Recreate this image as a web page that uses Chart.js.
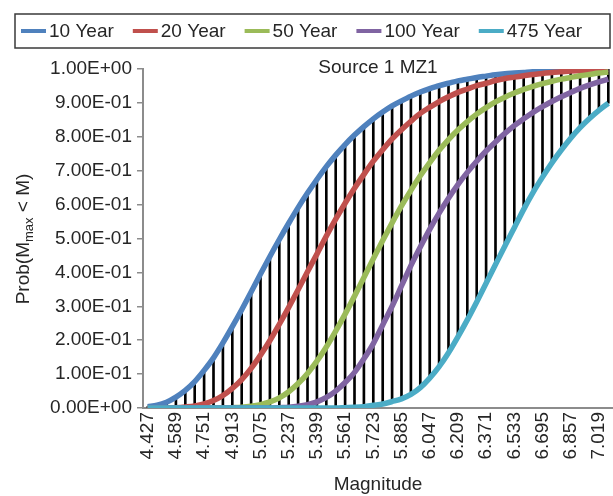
<!DOCTYPE html>
<html>
<head>
<meta charset="utf-8">
<title>Source 1 MZ1</title>
<script src="https://cdn.jsdelivr.net/npm/chart.js@4.4.1/dist/chart.umd.min.js"></script>
<style>
  html, body { margin: 0; padding: 0; background: #fff; overflow: hidden; }
</style>
</head>
<body>
<canvas id="chart" width="613" height="496"></canvas>
<script>
// Magnitude bins (every third one is labelled on the axis)
const magnitudes = [
  '4.427', '4.481', '4.535', '4.589', '4.643', '4.697', '4.751', '4.805', '4.859', '4.913',
  '4.967', '5.021', '5.075', '5.129', '5.183', '5.237', '5.291', '5.345', '5.399', '5.453',
  '5.507', '5.561', '5.615', '5.669', '5.723', '5.777', '5.831', '5.885', '5.939', '5.993',
  '6.047', '6.101', '6.155', '6.209', '6.263', '6.317', '6.371', '6.425', '6.479', '6.533',
  '6.587', '6.641', '6.695', '6.749', '6.803', '6.857', '6.911', '6.965', '7.019', '7.073'
];

// Prob(Mmax < M) for each exposure time
const year10 = [
  0.004, 0.008, 0.017, 0.032, 0.052, 0.078, 0.111, 0.148, 0.192, 0.240,
  0.290, 0.342, 0.395, 0.447, 0.497, 0.545, 0.591, 0.634, 0.674, 0.712,
  0.746, 0.777, 0.805, 0.830, 0.853, 0.873, 0.891, 0.906, 0.920, 0.932,
  0.942, 0.951, 0.958, 0.965, 0.970, 0.975, 0.979, 0.983, 0.986, 0.988,
  0.990, 0.992, 0.993, 0.995, 0.996, 0.997, 0.997, 0.998, 0.998, 0.999
];
const year20 = [
  0.000, 0.000, 0.000, 0.001, 0.003, 0.006, 0.012, 0.022, 0.037, 0.058,
  0.084, 0.117, 0.156, 0.199, 0.247, 0.297, 0.349, 0.402, 0.454, 0.507,
  0.557, 0.604, 0.648, 0.689, 0.728, 0.762, 0.794, 0.821, 0.846, 0.869,
  0.887, 0.904, 0.918, 0.931, 0.941, 0.951, 0.958, 0.966, 0.972, 0.976,
  0.980, 0.984, 0.987, 0.990, 0.992, 0.994, 0.995, 0.996, 0.997, 0.998
];
const year50 = [
  0.000, 0.000, 0.000, 0.000, 0.000, 0.000, 0.000, 0.000, 0.000, 0.001,
  0.002, 0.005, 0.010, 0.018, 0.030, 0.048, 0.072, 0.102, 0.138, 0.180,
  0.227, 0.277, 0.330, 0.385, 0.440, 0.494, 0.546, 0.596, 0.642, 0.685,
  0.724, 0.760, 0.792, 0.820, 0.845, 0.867, 0.886, 0.903, 0.917, 0.929,
  0.940, 0.949, 0.957, 0.964, 0.970, 0.975, 0.980, 0.984, 0.988, 0.991
];
const year100 = [
  0.000, 0.000, 0.000, 0.000, 0.000, 0.000, 0.000, 0.000, 0.000, 0.000,
  0.000, 0.000, 0.000, 0.000, 0.001, 0.002, 0.005, 0.010, 0.018, 0.031,
  0.050, 0.075, 0.105, 0.145, 0.190, 0.245, 0.300, 0.360, 0.420, 0.475,
  0.527, 0.575, 0.619, 0.659, 0.695, 0.728, 0.758, 0.785, 0.810, 0.833,
  0.853, 0.872, 0.889, 0.904, 0.918, 0.931, 0.943, 0.953, 0.962, 0.970
];
const year475 = [
  0.000, 0.000, 0.000, 0.000, 0.000, 0.000, 0.000, 0.000, 0.000, 0.000,
  0.000, 0.000, 0.000, 0.000, 0.000, 0.000, 0.000, 0.000, 0.000, 0.000,
  0.000, 0.001, 0.002, 0.004, 0.008, 0.012, 0.019, 0.027, 0.040, 0.060,
  0.088, 0.122, 0.163, 0.210, 0.260, 0.313, 0.368, 0.423, 0.478, 0.532,
  0.586, 0.636, 0.681, 0.723, 0.761, 0.796, 0.827, 0.854, 0.878, 0.899
];

const seriesNames = ['10 Year', '20 Year', '50 Year', '100 Year', '475 Year'];
const seriesData = [year10, year20, year50, year100, year475];
const seriesColors = ['#4F81BD', '#C0504D', '#9BBB59', '#8064A2', '#4BACC6'];

const chartTitle = 'Source 1 MZ1';
const xTitle = 'Magnitude';

const FONT = '"Liberation Sans", Arial, sans-serif';
const textColor = '#262626';
const axisColor = '#8c8c8c';

Chart.defaults.font.family = FONT;
Chart.defaults.font.size = 19;
Chart.defaults.color = textColor;

// high-low lines: from the lowest to the highest curve in each bin
const highLow = magnitudes.map((m, i) => {
  const vals = seriesData.map(s => s[i]);
  return [Math.min(...vals), Math.max(...vals)];
});

// 1.00E+00 style tick labels
function expLabel(value) {
  const parts = Number(value).toExponential(2).split('e');
  const sign = parts[1][0];
  const digits = parts[1].slice(1).padStart(2, '0');
  return parts[0] + 'E' + sign + digits;
}

// legend box, in-plot title and axis titles
const decorPlugin = {
  id: 'decor',
  afterDraw(chart) {
    const ctx = chart.ctx;
    const area = chart.chartArea;
    const midX = (area.left + area.right) / 2;
    ctx.save();
    ctx.fillStyle = textColor;
    ctx.font = '19px ' + FONT;
    ctx.textBaseline = 'middle';

    ctx.textAlign = 'center';
    ctx.fillText(chartTitle, midX, 68);
    ctx.fillText(xTitle, midX, 485);

    // legend
    ctx.textAlign = 'left';
    let x = 21;
    const ly = 31;
    seriesNames.forEach((name, k) => {
      ctx.strokeStyle = seriesColors[k];
      ctx.lineWidth = 4;
      ctx.beginPath();
      ctx.moveTo(x, ly);
      ctx.lineTo(x + 25, ly);
      ctx.stroke();
      ctx.fillText(name, x + 28, ly + 1);
      x += 28 + ctx.measureText(name).width + 19;
    });
    ctx.strokeStyle = '#3a3a3a';
    ctx.lineWidth = 1.5;
    ctx.strokeRect(15, 14, 595, 34);

    // y title: Prob(M_max < M)
    ctx.translate(22, 239);
    ctx.rotate(-Math.PI / 2);
    const partA = 'Prob(M';
    const partSub = 'max';
    const partB = ' < M)';
    ctx.font = '19px ' + FONT;
    const wA = ctx.measureText(partA).width;
    const wB = ctx.measureText(partB).width;
    ctx.font = '13px ' + FONT;
    const wSub = ctx.measureText(partSub).width;
    let tx = -(wA + wSub + wB) / 2;
    ctx.textBaseline = 'alphabetic';
    ctx.font = '19px ' + FONT;
    ctx.fillText(partA, tx, 7);
    tx += wA;
    ctx.font = '13px ' + FONT;
    ctx.fillText(partSub, tx, 11);
    tx += wSub;
    ctx.font = '19px ' + FONT;
    ctx.fillText(partB, tx, 7);
    ctx.restore();
  }
};

const datasets = seriesNames.map((name, k) => ({
  type: 'line',
  label: name,
  data: seriesData[k],
  borderColor: seriesColors[k],
  backgroundColor: seriesColors[k],
  borderWidth: 5.5,
  pointRadius: 0,
  cubicInterpolationMode: 'monotone',
  fill: false,
  order: 5 - k
}));

// drawn first so the curves sit on top of the black lines
datasets.push({
  type: 'bar',
  label: 'High-Low',
  data: highLow,
  backgroundColor: '#000000',
  borderWidth: 0,
  barThickness: 2,
  grouped: false,
  order: 10
});

new Chart(document.getElementById('chart'), {
  type: 'line',
  data: { labels: magnitudes, datasets: datasets },
  options: {
    responsive: false,
    animation: false,
    devicePixelRatio: 1,
    layout: { padding: { top: 69, left: 0, right: 0, bottom: 0 } },
    plugins: {
      legend: { display: false },
      tooltip: { enabled: false }
    },
    scales: {
      x: {
        offset: true,
        ticks: {
          autoSkip: false,
          minRotation: 90,
          maxRotation: 90,
          padding: 4,
          callback(value, index) {
            return index % 3 === 0 ? this.getLabelForValue(value) : '';
          }
        },
        grid: { display: false, drawTicks: false },
        border: { display: true, color: axisColor, width: 2 },
        afterFit(scale) {
          scale.height = 88;
          scale.paddingLeft = 0;
          scale.paddingRight = 0;
        }
      },
      y: {
        min: 0,
        max: 1,
        ticks: { stepSize: 0.1, padding: 5, callback: expLabel },
        grid: { drawOnChartArea: false, drawTicks: true, tickLength: 6, color: axisColor, lineWidth: 1.5 },
        border: { display: true, color: axisColor, width: 2 },
        afterFit(scale) { scale.width = 143; }
      }
    }
  },
  plugins: [decorPlugin]
});
</script>
</body>
</html>
